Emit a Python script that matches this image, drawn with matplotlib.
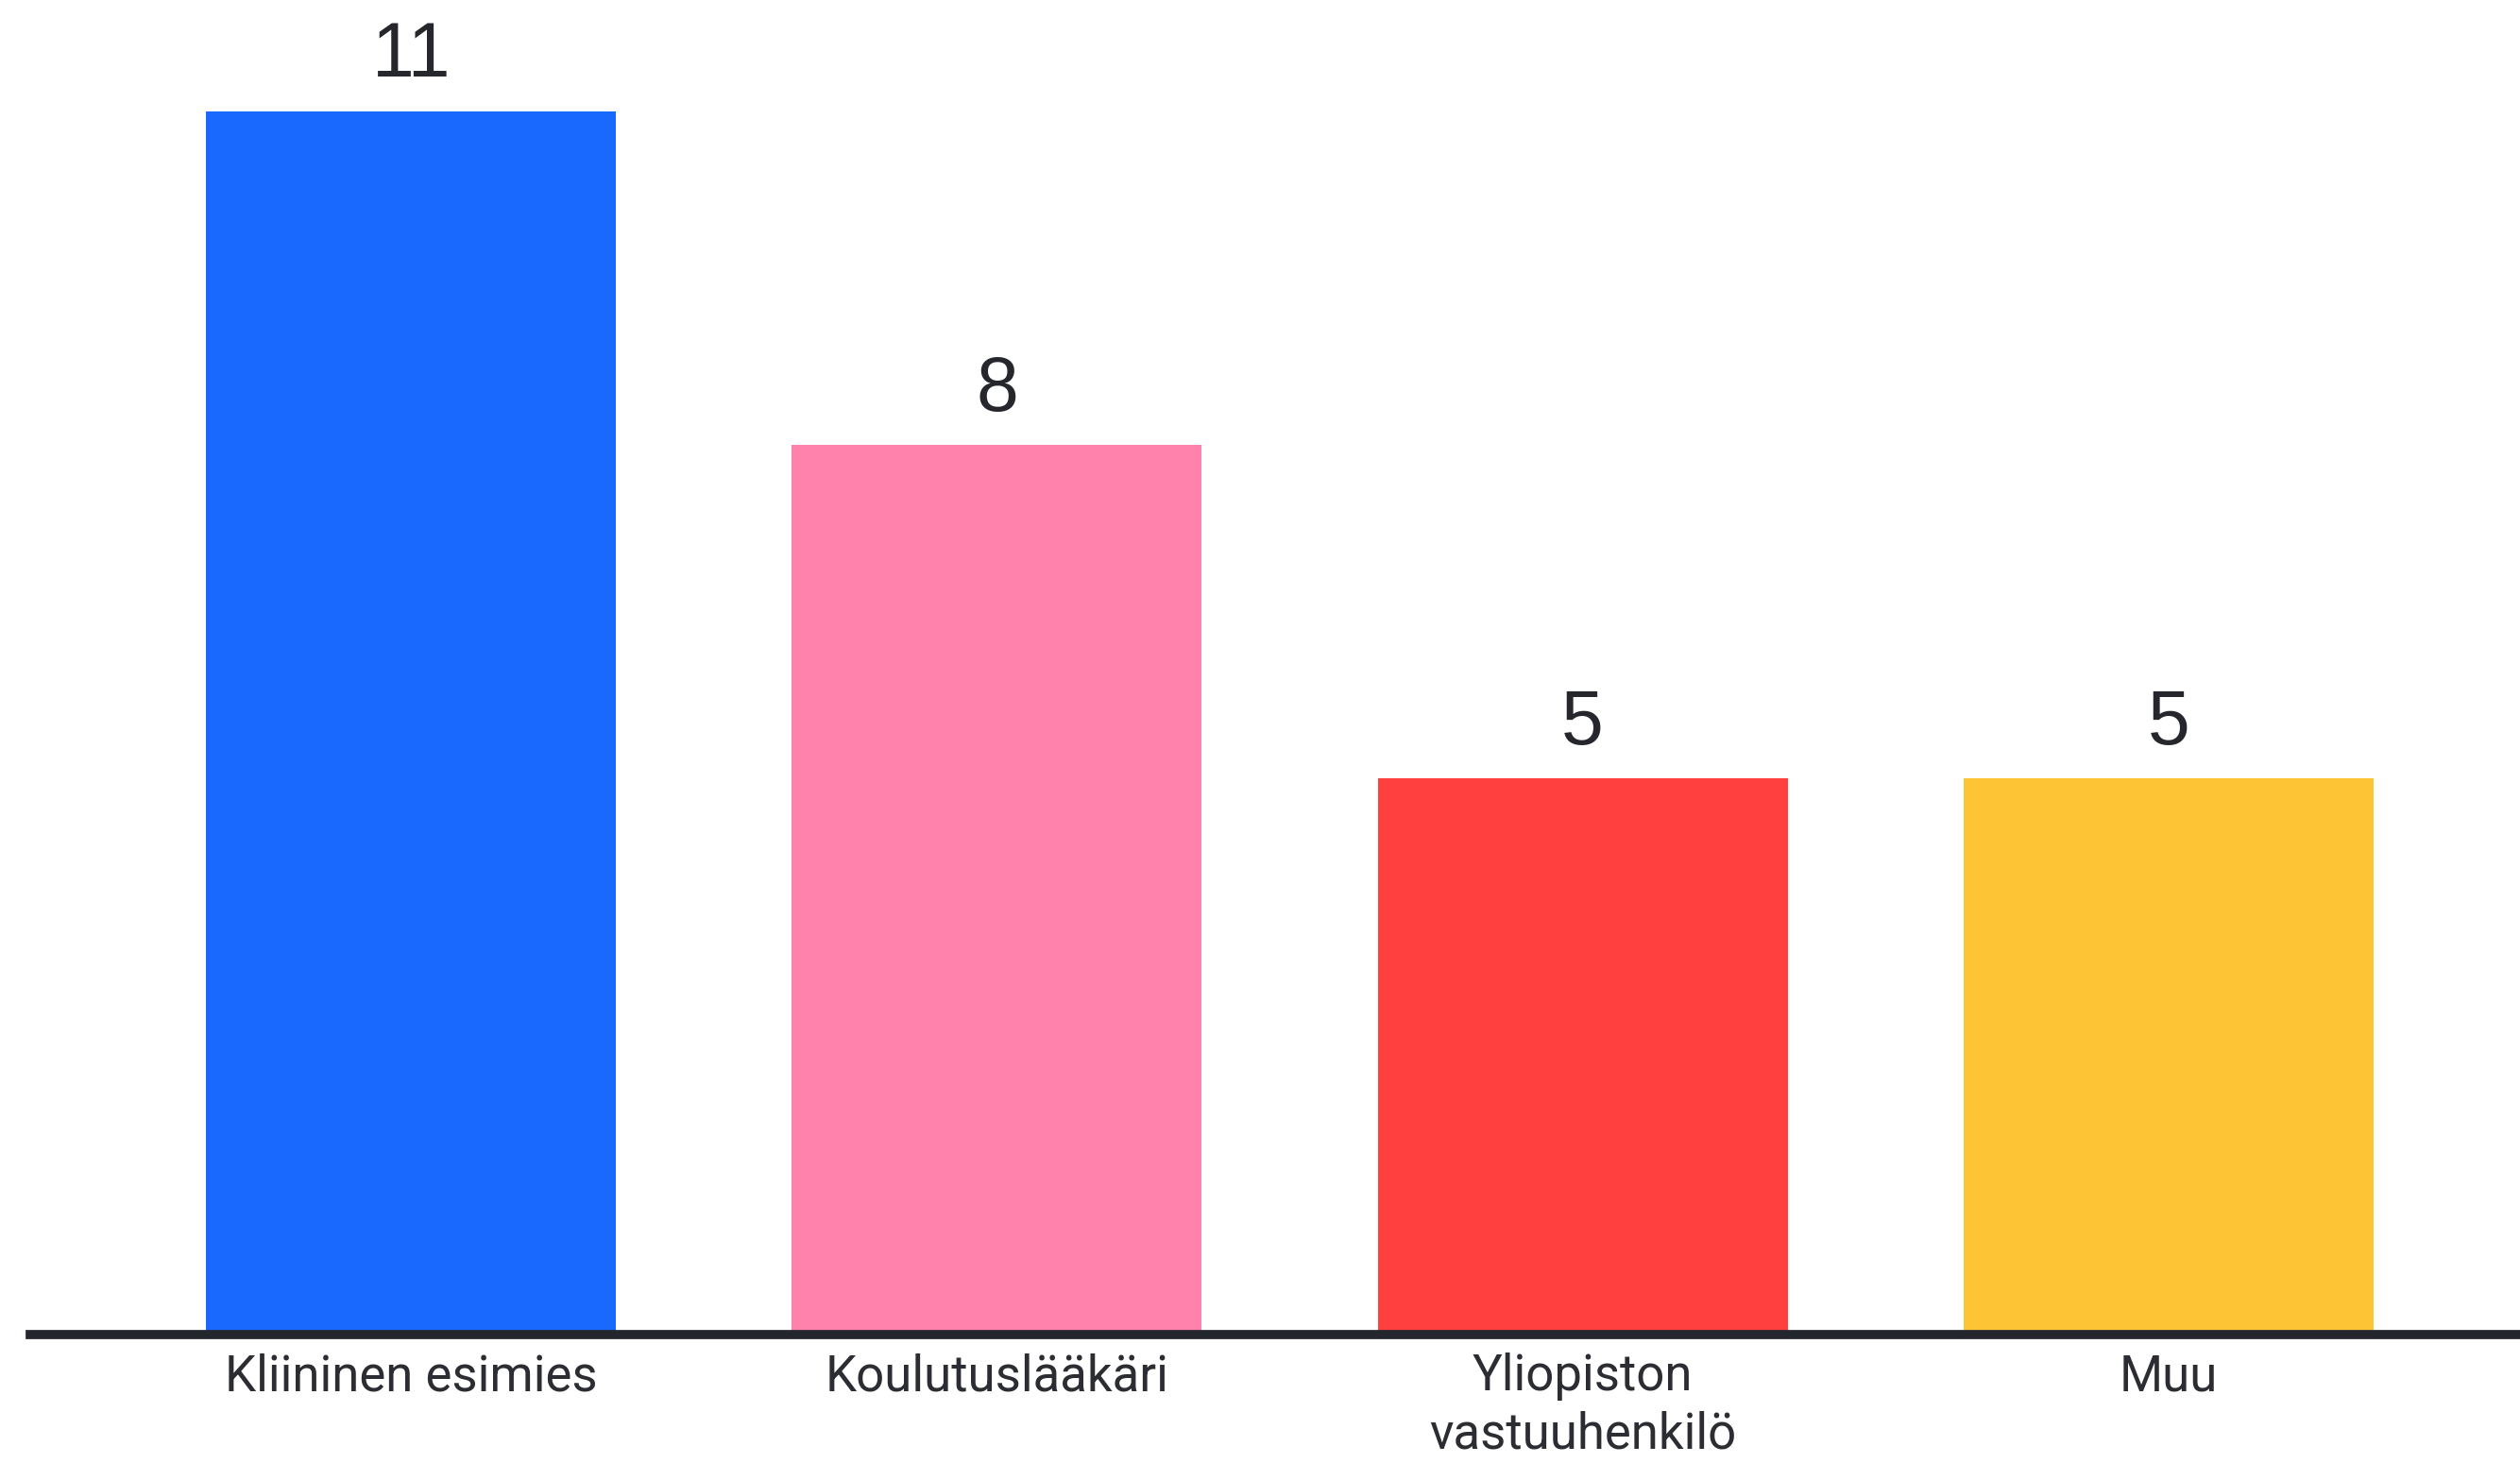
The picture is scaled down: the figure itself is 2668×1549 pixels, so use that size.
import numpy as np
import matplotlib.pyplot as plt

categories = ['Kliininen esimies', 'Koulutuslääkäri', 'Yliopiston\nvastuuhenkilö', 'Muu']
values = [11, 8, 5, 5]
colors = ['#1a69ff', '#ff82ad', '#ff403e', '#fdc436']

fig = plt.figure(figsize=(26.68, 15.49), dpi=100)
ax = fig.add_axes([32 / 2668, 1 - 1413 / 1549, 1 - 32 / 2668, 1413 / 1549])

x = np.arange(len(categories))
bars = ax.bar(x, values, width=0.7, color=colors, zorder=2)

for b, v in zip(bars, values):
    ax.annotate(str(v), (b.get_x() + b.get_width() / 2, v),
                xytext=(0, 14), textcoords='offset points',
                ha='center', va='bottom', fontsize=58,
                family=['Liberation Sans', 'DejaVu Sans'], color='#25272c')

ax.set_xlim(-0.65, 3.6)
ax.set_ylim(0, 12)
ax.set_xticks(x)
ax.set_xticklabels(categories, fontsize=38, family=['Roboto', 'DejaVu Sans'],
                   color='#2b2d33', linespacing=1.25)
ax.tick_params(axis='x', length=0, pad=14)
ax.set_yticks([])
for s in ['top', 'right', 'left']:
    ax.spines[s].set_visible(False)
ax.spines['bottom'].set_linewidth(7)
ax.spines['bottom'].set_color('#23262d')
ax.spines['bottom'].set_zorder(3)

plt.savefig('out.png', dpi=100, facecolor='white')
